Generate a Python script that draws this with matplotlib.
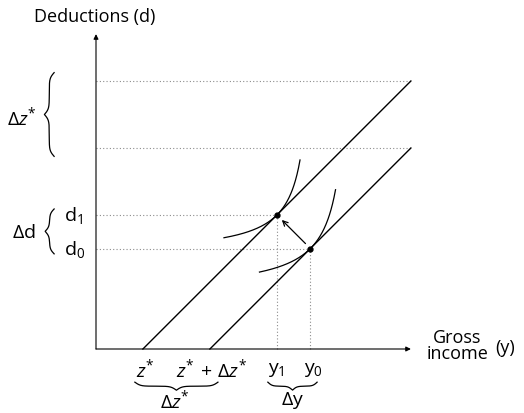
import numpy as np
import matplotlib.pyplot as plt

plt.rcParams['font.family'] = ['Open Sans', 'DejaVu Sans']
plt.rcParams['mathtext.fontset'] = 'custom'
plt.rcParams['mathtext.rm'] = 'Open Sans'
plt.rcParams['mathtext.it'] = 'Open Sans:italic'
plt.rcParams['mathtext.fallback'] = 'stixsans'

# thresholds and income levels (arbitrary units)
z_star = 1.4
dz_star = 2.0
soglie = [z_star, z_star + dz_star]      # where the two lines hit the income axis
y_pts = [5.4, 6.4]                        # y1, y0
d_pts = [y_pts[0] - soglie[0], y_pts[1] - soglie[1]]   # d1, d0
y_fine = 9.4                              # right end of the lines
d_top = [y_fine - s for s in soglie]      # deductions at the right end
ax_len = 9.4

# indifference curves: curvature and span around the tangency point
curv = [1.19, 1.31]
span = [(-1.58, 0.69), (-1.52, 0.75)]

S = 33.5  # pixels per unit
fig = plt.figure(figsize=(5.24, 4.14), dpi=100)
ax = fig.add_axes([0, 0, 1, 1])
ax.set_xlim(-96 / S, (524 - 96) / S)
ax.set_ylim(-(414 - 350) / S, 350 / S)
ax.axis('off')

testo = dict(color='black', fontsize=14)
punt = dict(color='#8c8c8c', lw=0.8, ls=(0, (1, 2)))

# axes
freccia = dict(arrowstyle='-|>', mutation_scale=7, lw=0.8, color='black', shrinkA=0, shrinkB=0)
ax.annotate('', xy=(0, ax_len), xytext=(0, 0), arrowprops=freccia)
ax.annotate('', xy=(ax_len, 0), xytext=(0, 0), arrowprops=freccia)

# dotted guides
for d in d_top:
    ax.plot([0, y_fine], [d, d], **punt)
for y, d in zip(y_pts, d_pts):
    ax.plot([0, y], [d, d], **punt)
    ax.plot([y, y], [0, d], **punt)

# the two lines
for s in soglie:
    ax.plot([s, y_fine], [0, y_fine - s], color='black', lw=1.0)

# indifference curves
for y, d, v, (a, b) in zip(y_pts, d_pts, curv, span):
    t = np.linspace(a, b, 200)
    ax.plot(y + t, d + v * t / (v - t), color='black', lw=0.9)

ax.plot(y_pts, d_pts, 'o', color='black', ms=3.5)
ax.annotate('', xy=(y_pts[0], d_pts[0]), xytext=(y_pts[1], d_pts[1]),
            arrowprops=dict(arrowstyle='->', mutation_scale=9, lw=0.9, color='black',
                            shrinkA=5, shrinkB=5))


def graffa(a, b, base, depth, vertical, beta=14):
    half = (b - a) / 2
    t = np.linspace(0, half, 200)
    s = 1 / (1 + np.exp(-beta * t)) + 1 / (1 + np.exp(-beta * (t - half))) - 0.5
    tt = np.concatenate([t, t + half]) + a
    ss = np.concatenate([s, s[::-1]])
    off = base + depth * ss
    if vertical:
        ax.plot(off, tt, color='black', lw=0.9)
    else:
        ax.plot(tt, off, color='black', lw=0.9)


graffa(5.75, 8.25, -1.25, -0.29, True, beta=12)
graffa(2.84, 4.18, -1.25, -0.27, True, beta=14)
graffa(1.16, 3.64, -0.99, -0.24, False, beta=12)
graffa(5.13, 6.60, -0.99, -0.24, False, beta=16)

# labels
ax.text(-0.03, 9.94, 'Deductions (d)', ha='center', va='center', fontsize=13)
ax.text(-2.21, 6.93, r'$\Delta z^{*}$', ha='center', va='center', **testo)
ax.text(-2.16, 3.49, r'$\Delta \mathrm{d}$', ha='center', va='center', **testo)
ax.text(-0.96, d_pts[0], r'$\mathrm{d}_1$', ha='left', va='center', **testo)
ax.text(-0.96, d_pts[1], r'$\mathrm{d}_0$', ha='left', va='center', **testo)

ax.text(soglie[0] + 0.08, -0.6, r'$z^{*}$', ha='center', va='center', **testo)
ax.text(soglie[1] + 0.06, -0.6, r'$z^{*}\,+\,\Delta z^{*}$', ha='center', va='center', **testo)
ax.text(y_pts[0], -0.6, r'$\mathrm{y}_1$', ha='center', va='center', **testo)
ax.text(y_pts[1] + 0.08, -0.6, r'$\mathrm{y}_0$', ha='center', va='center', **testo)
ax.text(2.36, -1.52, r'$\Delta z^{*}$', ha='center', va='center', **testo)
ax.text(5.88, -1.52, r'$\Delta \mathrm{y}$', ha='center', va='center', **testo)

ax.text(10.78, 0.12, 'Gross\nincome', ha='center', va='center', fontsize=13, linespacing=0.9)
ax.text(12.21, 0.06, '(y)', ha='center', va='center', fontsize=13)

fig.savefig('out.png', dpi=100, facecolor='white')
